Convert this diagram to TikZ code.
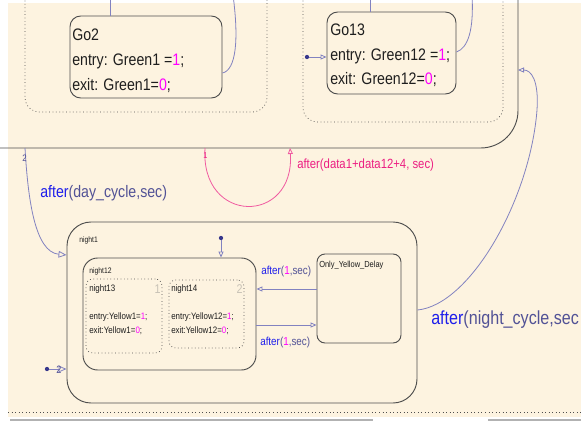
\documentclass[tikz,border=0pt]{standalone}
\usepackage{fontspec}
\setmainfont{Liberation Sans}
\usetikzlibrary{arrows.meta,fit}

\definecolor{paper}{RGB}{253,243,224}
\definecolor{edgec}{RGB}{78,78,78}
\definecolor{transc}{RGB}{130,130,192}
\definecolor{dotc}{RGB}{55,55,140}
\definecolor{kwblue}{RGB}{30,30,235}
\definecolor{lblgray}{RGB}{82,82,150}
\definecolor{numpink}{RGB}{255,0,255}
\definecolor{pinkline}{RGB}{240,90,160}
\definecolor{pinktext}{RGB}{236,30,130}
\definecolor{ordgray}{RGB}{200,194,182}
\definecolor{txtc}{RGB}{30,30,30}

% condensed look of the chart lettering
\newcommand\sq[1]{\scalebox{0.85}[1]{#1}}
\newcommand\mg[1]{\textcolor{numpink}{#1}}
\newcommand\af{\textcolor{kwblue}{after}}
\newcommand\fs[1]{\fontsize{#1}{#1}\selectfont}

\tikzset{
  stbox/.style={draw=edgec, line width=0.7pt, rounded corners=#1, inner sep=0pt},
  stbox/.default=7pt,
  substbox/.style={draw=edgec, dotted, line width=0.55pt, rounded corners=#1, inner sep=0pt},
  substbox/.default=5pt,
  trans/.style={draw=transc, line width=0.6pt},
  opentip/.style={-{Triangle[open,length=4.5pt,width=3.8pt]}},
  bigtip/.style={-{Triangle[open,length=6pt,width=5pt]}},
  txt/.style={anchor=west, inner sep=0pt, text=txtc},
  lbl/.style={anchor=west, inner sep=0pt, text=lblgray},
  defdot/.style={fill=dotc, circle, inner sep=0pt, minimum size=3.2pt},
}

\begin{document}
\begin{tikzpicture}[x=0.75pt, y=-0.75pt]
\useasboundingbox (0,0) rectangle (581,421);
\clip (0,0) rectangle (581,421);
\fill[white] (0,0) rectangle (581,421);
\fill[paper] (8,3) rectangle (581,417);

% outer day state (only its lower right part shows)
\draw[edgec, line width=0.7pt, rounded corners=28pt] (-20,148) -- (518,148) -- (518,-30);
\coordinate (dayL) at (25,148);
\coordinate (dayP1) at (205,148);
\coordinate (dayP2) at (290,148);
\coordinate (dayR) at (518,70);

% parallel substates of the day state
\draw[edgec, dotted, line width=0.55pt, rounded corners=11pt] (25,-30) -- (25,112) -- (267,112) -- (267,-30);
\draw[edgec, dotted, line width=0.55pt, rounded corners=11pt] (303,-30) -- (303,122) -- (503,122) -- (503,-30);

% Go2
\node[stbox=8pt, fit={(70,16)(222,98)}] (go2) {};
\node[txt, font=\fs{12.5}] (go2n) at (72,35) {\sq{Go2}};
\node[txt, font=\fs{12.5}] (go2e) at (72,61) {\sq{entry: Green1 =\mg{1};}};
\node[txt, font=\fs{12.5}] (go2x) at (72,86) {\sq{exit: Green1=\mg{0};}};

% Go13
\node[stbox=8pt, fit={(327,12)(456,94)}] (go13) {};
\node[txt, font=\fs{12.5}] (go13n) at (330,30) {\sq{Go13}};
\node[txt, font=\fs{12.5}] (go13e) at (330,56) {\sq{entry: Green12 =\mg{1};}};
\node[txt, font=\fs{12.5}] (go13x) at (330,80) {\sq{exit: Green12=\mg{0};}};

% transitions around Go2 and Go13
\coordinate (g2in) at (110,-5);
\coordinate (g2out) at (233,-5);
\coordinate (g13in) at (370,-5);
\coordinate (g13out) at (472,-5);
\draw[trans] (g2in) -- (g2in |- go2.north);
\draw[trans] (go2.east |- 0,73) .. controls (236,70) and (239,40) .. (g2out);
\draw[trans] (g13in) -- (g13in |- go13.north);
\draw[trans] (go13.east |- 0,52) .. controls (468,48) and (474,30) .. (g13out);
\node[defdot] (d13) at (307,57) {};
\draw[trans, opentip] (d13) -- (go13.west |- d13);

% night1 and its contents
\node[stbox=18pt, fit={(67,222)(417,403)}] (night1) {};
\node[txt, font=\fs{6}] (night1n) at (79,240) {\sq{night1}};

\node[stbox=11pt, fit={(83,258)(256,370)}] (night12) {};
\node[txt, font=\fs{6}] (night12n) at (89,271) {\sq{night12}};

\node[substbox=5pt, fit={(86,279)(162,353)}] (night13) {};
\node[txt, font=\fs{7}] (n13n) at (89,289) {\sq{night13}};
\node[anchor=east, inner sep=0pt, text=ordgray, font=\fs{9.5}] (n13o) at (161,289) {\sq{1}};
\node[txt, font=\fs{7}] (n13e) at (89,317) {\sq{entry:Yellow1=\mg{1};}};
\node[txt, font=\fs{7}] (n13x) at (89,331) {\sq{exit:Yellow1=\mg{0};}};

\node[substbox=5pt, fit={(169,280)(244,348)}] (night14) {};
\node[txt, font=\fs{7}] (n14n) at (171,289) {\sq{night14}};
\node[anchor=east, inner sep=0pt, text=ordgray, font=\fs{9.5}] (n14o) at (243,289) {\sq{2}};
\node[txt, font=\fs{7}] (n14e) at (171,317) {\sq{entry:Yellow12=\mg{1};}};
\node[txt, font=\fs{7}] (n14x) at (171,331) {\sq{exit:Yellow12=\mg{0};}};

\node[stbox=6pt, fit={(317,254)(401,343)}] (oyd) {};
\node[txt, font=\fs{6.6}] (oydn) at (319,265) {\sq{Only\_Yellow\_Delay}};

% night1 internal transitions
\node[defdot] (d12) at (221,238) {};
\draw[trans, opentip] (d12) -- (d12 |- night12.north);
\draw[trans, opentip] (oyd.west |- 0,289) -- (night12.east |- 0,289);
\draw[trans, opentip] (night12.east |- 0,325) -- (oyd.west |- 0,325);
\node[lbl, font=\fs{8.7}] (t1) at (261,271) {\sq{\af(\mg{1},sec)}};
\node[lbl, font=\fs{8.7}] (t2) at (260,342) {\sq{\af(\mg{1},sec)}};

% default transition into night1
\node[defdot] (d1) at (47,369) {};
\draw[trans, bigtip] (d1) -- (night1.west |- d1);
\node[lbl, font=\fs{8}] (d1o) at (56,369.5) {\sq{2}};

% day -> night
\draw[trans, bigtip] (dayL) .. controls (28,200) and (35,252) .. (night1.west |- 0,255);
\node[lbl, font=\fs{7}] (dayo) at (22,158) {\sq{2}};
\node[lbl, font=\fs{12.5}] (t3) at (40,193) {\sq{\af(day\_cycle,sec)}};

% self loop on the day state
\draw[pinkline, line width=0.6pt, opentip] (dayP1) .. controls (200,225) and (295,225) .. (dayP2);
\node[anchor=west, inner sep=0pt, text=pinktext, font=\fs{6.5}] (p1o) at (203,156) {\sq{1}};
\node[anchor=west, inner sep=0pt, text=pinktext, font=\fs{10}] (t4) at (297,165) {\sq{after(data1+data12+4, sec)}};

% night -> day
\draw[trans, opentip] (night1.east |- 0,310) .. controls (470,305) and (530,200) .. (537,110) .. controls (539,80) and (531,70) .. (dayR);
\node[lbl, font=\fs{14.2}] (t5) at (431,320) {\sq{\af(night\_cycle,sec}};

% bottom border of the chart area
\draw[edgec, dotted, line width=0.65pt] (8,412) -- (581,412);
\draw[black!30, line width=0.8pt] (10,420) -- (373,420);
\draw[black!30, line width=0.8pt] (488,420) -- (581,420);
\end{tikzpicture}
\end{document}
